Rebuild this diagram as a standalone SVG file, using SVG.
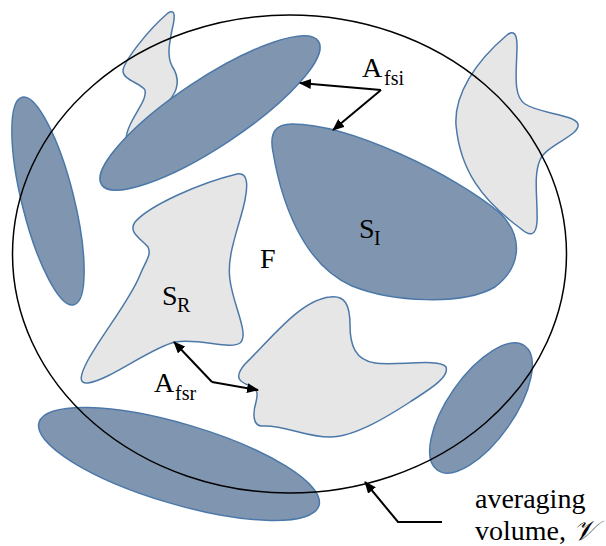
<svg xmlns="http://www.w3.org/2000/svg" width="606" height="546" viewBox="0 0 606 546">
<style>
.dark{fill:#8096b0;stroke:#4b78a8;stroke-width:1.5}
.light{fill:#e6e6e6;stroke:#4b78a8;stroke-width:1.5}
.vol{fill:none;stroke:#000;stroke-width:1.5}
.con{fill:none;stroke:#000;stroke-width:2}
.t{font-family:"Liberation Serif","Times New Roman",serif;fill:#000}
.big{font-size:28px}
.sub{font-size:20px}
</style>
<defs>
<marker id="ah" markerUnits="userSpaceOnUse" markerWidth="12" markerHeight="10" refX="11" refY="5" orient="auto">
<path d="M0,0 L12,5 L0,10 Z" fill="#000"/>
</marker>
</defs>
<g id="lightning"><path class="light" d="M168,13 C176,8 175,18 172,30 C169,45 167,56 172,66 C180,78 179,90 168,102 L150,125 L131,140 C125,144 125,136 130,125 C137,110 147,99 145,90 C141,83 122,80 123,70 C125,60 148,30 168,13 Z"/></g>
<g id="ellipse-top"><ellipse class="dark" cx="210" cy="113" rx="130" ry="34" transform="rotate(-33.5 210 113)"/></g>
<g id="ellipse-left"><ellipse class="dark" cx="48" cy="201" rx="26" ry="107" transform="rotate(-14 48 201)"/></g>
<g id="S_I"><path class="dark" d="M292,124 C350,124 455,175 500,213 C525,238 520,268 495,287 C462,306 392,302 352,286 C302,264 281,200 273,152 C269,132 276,124 292,124 Z"/></g>
<g id="light-topright"><path class="light" d="M507,35 C513,30 517,33 517,45 C517,70 512,95 525,104 C540,114 574,114 578,124 C581,135 546,145 540,160 C533,176 538,200 537,222 C536,236 530,237 520,228 C482,200 460,170 456,125 C454,95 475,62 507,35 Z"/></g>
<g id="S_R"><path class="light" d="M237,174 C248,172 248,185 245,200 C240,225 226,255 230,280 C233,305 250,335 240,343 C230,350 200,338 175,342 C150,348 110,380 88,383 C78,384 80,375 88,360 C105,330 130,300 140,275 C145,262 152,255 148,247 C140,238 128,232 135,222 C150,205 200,183 237,174 Z"/></g>
<g id="light-middle"><path class="light" d="M330,297 C345,295 350,305 350,325 C350,345 355,360 375,363 C395,366 440,358 446,367 C450,378 425,392 410,402 C390,415 355,437 330,437 C305,437 285,425 263,426 C252,427 253,412 256,402 C258,394 258,389 250,386 C240,382 233,378 245,364 C270,340 300,300 330,297 Z"/></g>
<g id="ellipse-bottomright"><ellipse class="dark" cx="481" cy="408" rx="33" ry="76" transform="rotate(35 481 408)"/></g>
<g id="ellipse-bottomleft"><ellipse class="dark" cx="179" cy="464" rx="146" ry="40" transform="rotate(16.5 179 464)"/></g>
<g id="averaging-volume"><ellipse class="vol" cx="289.5" cy="254" rx="277" ry="239"/></g>
<g id="connectors">
<polyline class="con" points="381,90 300,83" marker-end="url(#ah)"/>
<polyline class="con" points="381,90 333,130" marker-end="url(#ah)"/>
<polyline class="con" points="212,382 174,342" marker-end="url(#ah)"/>
<polyline class="con" points="212,382 258,390" marker-end="url(#ah)"/>
<polyline class="con" points="442,522 398,522 365,482" marker-end="url(#ah)"/>
</g>
<g id="labels">
<text class="t big" x="260" y="268">F</text>
<text class="t big" x="359" y="238">S</text><text class="t sub" x="374" y="245">I</text>
<text class="t big" x="162" y="305">S</text><text class="t sub" x="177" y="312">R</text>
<text class="t big" x="362" y="77">A</text><text class="t sub" x="384" y="85">fsi</text>
<text class="t big" x="154" y="392">A</text><text class="t sub" x="175" y="400">fsr</text>
<text class="t big" x="475" y="508">averaging</text>
<text class="t big" x="475" y="540">volume, <tspan font-family="'DejaVu Serif','DejaVu Sans',serif" font-style="italic">𝒱</tspan></text>
</g>
</svg>
